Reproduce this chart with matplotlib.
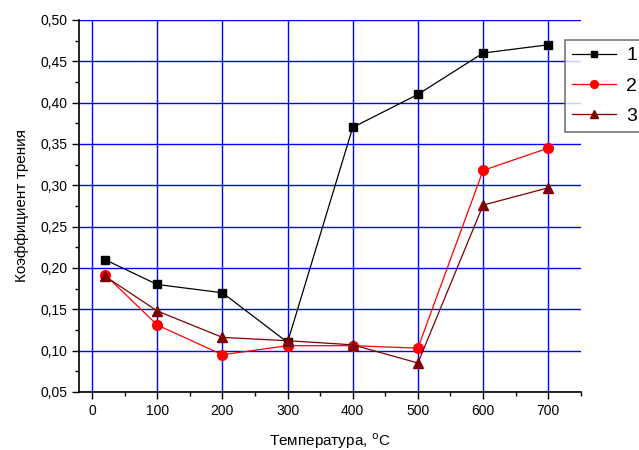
"""
Коэффициент трения ~ температура
"""
import matplotlib
matplotlib.use("Agg")
from matplotlib import pyplot as plt
from matplotlib.ticker import MultipleLocator, FuncFormatter

plt.rcParams["font.family"] = ["Liberation Sans", "DejaVu Sans"]

# data
temperature = [20, 100, 200, 300, 400, 500, 600, 700]
friction_1 = [0.210, 0.180, 0.170, 0.110, 0.370, 0.410, 0.460, 0.470]
friction_2 = [0.192, 0.131, 0.095, 0.106, 0.106, 0.103, 0.318, 0.345]
friction_3 = [0.190, 0.148, 0.116, 0.112, 0.107, 0.085, 0.276, 0.297]
labels = ["1", "2", "3"]


def comma(v, pos):
    return f"{v:.2f}".replace(".", ",")


if __name__ == "__main__":
    fig = plt.figure(figsize=(6.39, 4.5), dpi=100)
    ax = fig.add_axes([0.1236, 0.129, 0.7854, 0.8266])

    styles = [
        dict(color="black", marker="s", markersize=6),
        dict(color="red", marker="o", markersize=7),
        dict(color="#800000", marker="^", markersize=7),
    ]
    for values, label, style in zip([friction_1, friction_2, friction_3], labels, styles):
        ax.plot(temperature, values, label=label, linewidth=0.9, **style)

    ax.set_xlim(-20, 750)
    ax.set_ylim(0.05, 0.50)
    ax.xaxis.set_major_locator(MultipleLocator(100))
    ax.xaxis.set_minor_locator(MultipleLocator(50))
    ax.yaxis.set_major_locator(MultipleLocator(0.05))
    ax.yaxis.set_minor_locator(MultipleLocator(0.025))
    ax.yaxis.set_major_formatter(FuncFormatter(comma))
    ax.tick_params(which="major", direction="out", length=5, width=1, labelsize=10)
    ax.tick_params(which="minor", direction="out", length=3, width=1)

    ax.spines["top"].set_visible(False)
    ax.spines["right"].set_visible(False)
    ax.spines["left"].set_linewidth(1.2)
    ax.spines["bottom"].set_linewidth(1.2)

    ax.grid(True, which="major", color="#0000ff", linewidth=1)
    ax.set_axisbelow(True)

    ax.set_xlabel("Температура, $^{\\mathrm{o}}$C", fontsize=11, labelpad=10)
    ax.set_ylabel("Коэффициент трения", fontsize=11, labelpad=8)

    leg = ax.legend(
        loc="upper left", bbox_to_anchor=(0.884, 0.911), bbox_transform=fig.transFigure,
        fontsize=14, handlelength=2.3, frameon=True, fancybox=False,
        edgecolor="#555555", borderpad=0.35, labelspacing=0.65, handletextpad=0.5,
        borderaxespad=0, markerscale=0.8,
    )
    leg.get_frame().set_linewidth(1.2)

    fig.savefig("out.png", dpi=100)
